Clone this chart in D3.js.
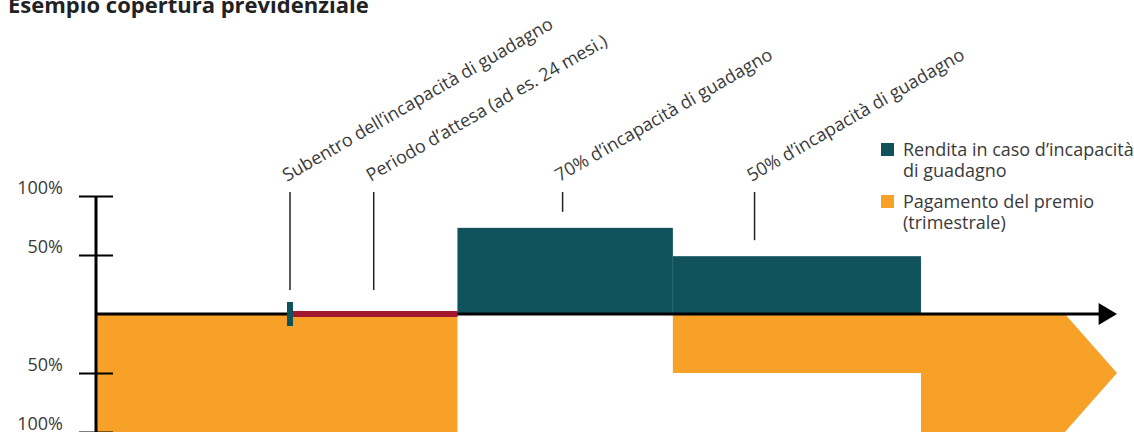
<!DOCTYPE html>
<html>
<head>
<meta charset="utf-8">
<script src="https://cdn.jsdelivr.net/npm/d3@7"></script>
<style>
  body { margin: 0; background: #fff; }
  svg { display: block; font-family: "Open Sans", "Noto Sans", sans-serif; }
</style>
</head>
<body>
<div class="graph_area"></div>
<script>
// time runs 0..100 along the horizontal axis, levels are in % of salary
const title = "Esempio copertura previdenziale"

const renditaStart = [35.4, 56.5]
const renditaEnd = [56.5, 80.8]
const renditaLevel = [73, 49]

const waitingStart = 19
const waitingEnd = 35.4

// premium payments drawn below the axis (negative levels)
const premioBlockA = [[0, 0], [35.4, 0], [35.4, -100], [0, -100]]
const premioBlockB = [[56.5, 0], [94.9, 0], [100, -50], [94.9, -100], [80.8, -100], [80.8, -50], [56.5, -50]]

const annotTime = [19, 27.2, 45.7, 64.5]
const annotLevel = [0, 0, 73, 49]
const annotText = [
  "Subentro dell\u2019incapacità di guadagno",
  "Periodo d\u2019attesa (ad es. 24 mesi.)",
  "70% d\u2019incapacità di guadagno",
  "50% d\u2019incapacità di guadagno"
]

const tickValues = [100, 50, -50, -100]
const tickLabels = ["100%", "50%", "50%", "100%"]

const legendLabels = [["Rendita in caso d\u2019incapacità", "di guadagno"], ["Pagamento del premio", "(trimestrale)"]]

const teal = "#10525b", orange = "#f7a128", red = "#a3182f", textCol = "#3a3a3a"

const width = 1134, height = 432

const x = d3.scaleLinear().domain([0, 100]).range([96, 1117])
const y = d3.scaleLinear().domain([-100, 100]).range([432, 196])

const svg = d3.select(".graph_area").append("svg")
  .attr("width", width).attr("height", height)

svg.append("text")
  .attr("x", 8).attr("y", 13)
  .attr("font-size", 22).attr("font-weight", "bold").attr("fill", "#222")
  .text(title)

// premium polygons
const poly = d3.line().x(d => x(d[0])).y(d => y(d[1]))
svg.selectAll(".premio")
  .data([premioBlockA, premioBlockB])
  .enter().append("path")
  .attr("class", "premio")
  .attr("d", d => poly(d) + "Z")
  .attr("fill", orange)

// rent blocks
svg.selectAll(".rendita")
  .data(renditaLevel)
  .enter().append("rect")
  .attr("class", "rendita")
  .attr("x", (d, i) => x(renditaStart[i]))
  .attr("width", (d, i) => x(renditaEnd[i]) - x(renditaStart[i]))
  .attr("y", d => y(d))
  .attr("height", d => y(0) - y(d))
  .attr("fill", teal)

// x axis line with arrow
svg.append("line")
  .attr("x1", x(0)).attr("x2", x(98.3))
  .attr("y1", y(0)).attr("y2", y(0))
  .attr("stroke", "#000").attr("stroke-width", 3)
svg.append("path")
  .attr("d", d3.line()([[x(98.2), y(0) - 11], [x(100), y(0)], [x(98.2), y(0) + 11]]) + "Z")
  .attr("fill", "#000")

// waiting period
svg.append("rect")
  .attr("x", x(waitingStart)).attr("width", x(waitingEnd) - x(waitingStart))
  .attr("y", y(0) - 3).attr("height", 6)
  .attr("fill", red)

// onset marker
svg.append("rect")
  .attr("x", x(waitingStart) - 3).attr("width", 6)
  .attr("y", y(0) - 12).attr("height", 24)
  .attr("fill", teal)

// y axis
const yAxis = svg.append("g")
  .attr("transform", `translate(${x(0)},0)`)
  .call(d3.axisLeft(y).tickValues(tickValues).tickSize(0).tickFormat((d, i) => tickLabels[i]))
yAxis.select(".domain").remove()
yAxis.append("line")
  .attr("y1", y(100)).attr("y2", y(-100))
  .attr("stroke", "#000").attr("stroke-width", 3)
yAxis.selectAll(".tick line")
  .attr("x1", -17).attr("x2", 17)
  .attr("stroke", "#000").attr("stroke-width", 2)
yAxis.selectAll(".tick text")
  .attr("x", -33).attr("dy", "-3")
  .attr("font-size", 18).attr("font-family", "Open Sans, Noto Sans, sans-serif")
  .attr("fill", textCol)

// annotations
const ann = svg.selectAll(".ann")
  .data(annotText)
  .enter().append("g")
  .attr("class", "ann")
ann.append("line")
  .attr("x1", (d, i) => x(annotTime[i])).attr("x2", (d, i) => x(annotTime[i]))
  .attr("y1", 192)
  .attr("y2", (d, i) => y(annotLevel[i]) - (annotLevel[i] === 0 ? 24 : 16))
  .attr("stroke", "#222").attr("stroke-width", 1.5)
ann.append("text")
  .attr("transform", (d, i) => `translate(${x(annotTime[i]) - 3},182) rotate(-30)`)
  .attr("font-size", 18).attr("fill", textCol)
  .text(d => d)

// legend
const leg = svg.selectAll(".leg")
  .data(legendLabels)
  .enter().append("g")
  .attr("class", "leg")
  .attr("transform", (d, i) => `translate(881,${143 + i * 52})`)
leg.append("rect")
  .attr("width", 13).attr("height", 13)
  .attr("fill", (d, i) => i === 0 ? teal : orange)
leg.append("text")
  .attr("x", 22).attr("y", 13)
  .attr("font-size", 18).attr("fill", textCol)
  .selectAll("tspan")
  .data(d => d)
  .enter().append("tspan")
  .attr("x", 22).attr("dy", (d, i) => i === 0 ? 0 : 21)
  .text(d => d)
</script>
</body>
</html>
